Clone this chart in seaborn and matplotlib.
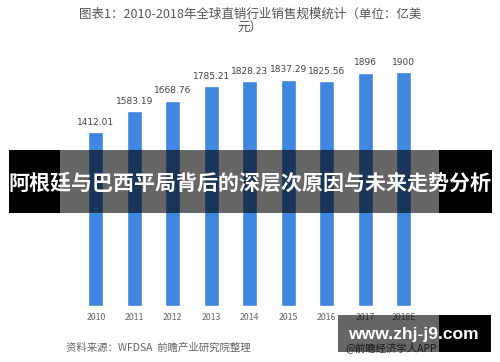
import pandas as pd
import seaborn as sns
import matplotlib.pyplot as plt
from matplotlib.patches import Rectangle

# Chart data
years = ["2010", "2011", "2012", "2013", "2014", "2015", "2016", "2017", "2018E"]
sales = [1412.01, 1583.19, 1668.76, 1785.21, 1828.23, 1837.29, 1825.56, 1896, 1900]
value_labels = ["1412.01", "1583.19", "1668.76", "1785.21", "1828.23", "1837.29", "1825.56", "1896", "1900"]

title = "图表1：2010-2018年全球直销行业销售规模统计（单位：亿美\n元）"
banner = "阿根廷与巴西平局背后的深层次原因与未来走势分析"
source = "资料来源：WFDSA  前瞻产业研究院整理"

sns.set_style("white")
plt.rcParams['font.family'] = ['Noto Sans CJK SC', 'DejaVu Sans']

W, H = 500, 362
fig = plt.figure(figsize=(W / 100, H / 100), dpi=100)


def fx(px):
    return px / W


def fy(py):
    return 1 - py / H


df = pd.DataFrame({"year": years, "sales": sales})

ax = fig.add_axes([fx(76.5), fy(306), fx(346.5), 270.6 / H])
sns.barplot(data=df, x="year", y="sales", color="#3f86e0", saturation=1,
            width=0.39, ax=ax)
ax.set_ylim(0, 2200)
ax.set_xlim(-0.5, 8.5)
sns.despine(ax=ax, left=True, bottom=True)
ax.set_yticks([])
ax.set_xlabel("")
ax.set_ylabel("")
ax.tick_params(axis="x", length=0, labelsize=6.3, labelcolor="#666666", pad=5)
for i, v in enumerate(sales):
    ax.text(i, v + 45, value_labels[i], ha="center", va="bottom",
            fontsize=6.5, color="#444444", family="DejaVu Sans")

# title and source
fig.text(0.5, fy(8), title, ha="center", va="top", fontsize=9,
         color="#555555", linespacing=0.95)
fig.text(fx(66), fy(348), source, ha="left", va="center", fontsize=7.5,
         color="#666666", style="italic")
fig.text(fx(345), fy(348), "@前瞻经济学人APP", ha="left", va="center",
         fontsize=7.5, color="#444444", zorder=4)

# banner overlay
fig.add_artist(Rectangle((fx(9), fy(213)), fx(51), (213 - 149.5) / H,
                         transform=fig.transFigure, color="black", zorder=5, lw=0))
fig.add_artist(Rectangle((fx(439), fy(213)), fx(53), (213 - 149.5) / H,
                         transform=fig.transFigure, color="black", zorder=5, lw=0))
fig.add_artist(Rectangle((fx(60), fy(213)), fx(379), (213 - 149.5) / H,
                         transform=fig.transFigure, color="black", alpha=0.6,
                         zorder=5, lw=0))
fig.text(fx(250.5), fy(183), banner, ha="center", va="center", fontsize=15.1,
         color="white", fontweight="bold", zorder=6)

# watermark box bottom right
fig.add_artist(Rectangle((fx(338), fy(352)), fx(101), 37 / H,
                         transform=fig.transFigure, color="black", alpha=0.6,
                         zorder=5, lw=0))
fig.add_artist(Rectangle((fx(439), fy(352)), fx(52), 37 / H,
                         transform=fig.transFigure, color="black", zorder=5, lw=0))
fig.text(fx(413.5), fy(335), "www.zhj-j9.com", ha="center", va="center",
         fontsize=12.6, color="white", fontweight="bold",
         family="Liberation Sans", zorder=6)

fig.savefig("out.png", dpi=100)
